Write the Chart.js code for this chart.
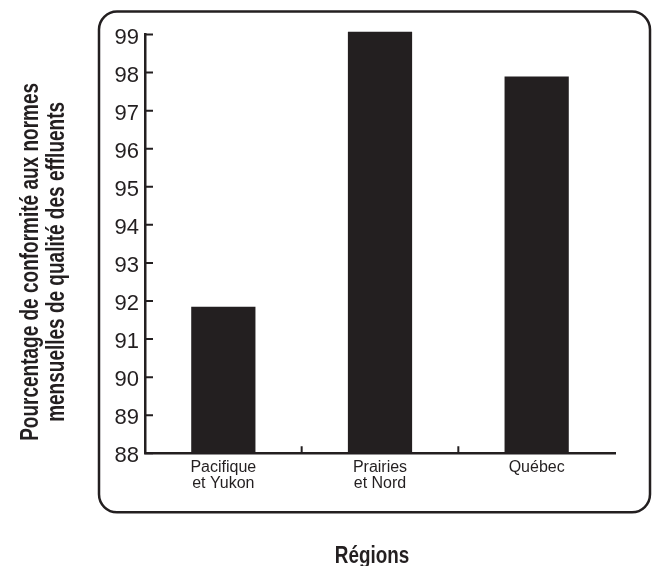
<!DOCTYPE html>
<html>
<head>
<meta charset="utf-8">
<script src="https://cdn.jsdelivr.net/npm/chart.js@4/dist/chart.umd.min.js"></script>
<style>
  body { margin: 0; background: #fff; }
  canvas { display: block; }
</style>
</head>
<body>
<canvas id="chart" width="653" height="566"></canvas>
<script>
const regions = [['Pacifique', 'et Yukon'], ['Prairies', 'et Nord'], 'Québec'];
const compliance = [91.85, 99.07, 97.9];
const yTicks = [88, 89, 90, 91, 92, 93, 94, 95, 96, 97, 98, 99];
const yTitle = ['Pourcentage de conformité aux normes', 'mensuelles de qualité des effluents'];
const xTitle = 'Régions';

const ink = '#231f20';
const sans = "'Liberation Sans', Arial, sans-serif";
// no condensed face installed, so the bold titles get squeezed by hand
const squeeze = 0.76;

// rounded frame around the plot + tick labels
const framePlugin = {
  id: 'frame',
  beforeDraw: (chart) => {
    const ctx = chart.ctx;
    const a = chart.chartArea;
    const x0 = a.left - 46, y0 = a.top - 23;
    const x1 = a.right + 35, y1 = a.bottom + 59;
    ctx.save();
    ctx.fillStyle = '#fff';
    ctx.fillRect(0, 0, chart.width, chart.height);
    ctx.strokeStyle = ink;
    ctx.lineWidth = 2.5;
    ctx.beginPath();
    ctx.roundRect(x0, y0, x1 - x0, y1 - y0, 18);
    ctx.stroke();
    ctx.restore();
  }
};

// inward ticks on y axis, small upward ticks between categories, titles
const extrasPlugin = {
  id: 'extras',
  afterDraw: (chart) => {
    const ctx = chart.ctx;
    const a = chart.chartArea;
    const y = chart.scales.y;
    const x = chart.scales.x;
    ctx.save();
    ctx.strokeStyle = ink;
    ctx.lineWidth = 2;
    ctx.beginPath();
    yTicks.forEach(v => {
      const py = y.getPixelForValue(v);
      ctx.moveTo(a.left, py);
      ctx.lineTo(a.left + 8, py);
    });
    for (let i = 1; i < regions.length; i++) {
      const px = (x.getPixelForTick(i - 1) + x.getPixelForTick(i)) / 2;
      ctx.moveTo(px, a.bottom);
      ctx.lineTo(px, a.bottom - 7);
    }
    ctx.stroke();

    ctx.fillStyle = ink;
    ctx.font = `bold 25px ${sans}`;
    ctx.textAlign = 'center';
    ctx.textBaseline = 'alphabetic';
    const midY = a.top - 23 + (a.bottom + 59 - (a.top - 23)) / 2;
    yTitle.forEach((line, i) => {
      ctx.save();
      ctx.translate(38 + i * 25.5, midY);
      ctx.rotate(-Math.PI / 2);
      ctx.scale(squeeze, 1);
      ctx.fillText(line, 0, 0);
      ctx.restore();
    });
    ctx.font = `bold 23px ${sans}`;
    ctx.save();
    ctx.translate((a.left + a.right) / 2 - 8, chart.height - 3.5);
    ctx.scale(0.82, 1);
    ctx.fillText(xTitle, 0, 0);
    ctx.restore();
    ctx.restore();
  }
};

new Chart(document.getElementById('chart').getContext('2d'), {
  type: 'bar',
  data: {
    labels: regions,
    datasets: [{
      data: compliance,
      base: 88,
      backgroundColor: ink,
      borderWidth: 0,
      barPercentage: 0.41,
      categoryPercentage: 1,
      clip: false
    }]
  },
  options: {
    responsive: false,
    animation: false,
    events: [],
    layout: {
      padding: { left: 85, right: 38, top: 34.5, bottom: 52.7 }
    },
    plugins: {
      legend: { display: false },
      tooltip: { enabled: false }
    },
    scales: {
      x: {
        afterFit: (s) => { s.height = 60; },
        grid: { display: false, drawTicks: false },
        border: { display: true, color: ink, width: 2.5 },
        ticks: {
          color: ink,
          padding: 6,
          font: { family: sans, size: 16, lineHeight: 1 }
        }
      },
      y: {
        min: 88,
        max: 99,
        afterFit: (s) => { s.width = 60; },
        afterBuildTicks: (s) => { s.ticks = yTicks.map(v => ({ value: v })); },
        grid: { display: false, drawTicks: false },
        border: { display: true, color: ink, width: 2.5 },
        ticks: {
          color: ink,
          padding: 6,
          labelOffset: 3,
          font: { family: sans, size: 22 }
        }
      }
    }
  },
  plugins: [framePlugin, extrasPlugin]
});
</script>
</body>
</html>
